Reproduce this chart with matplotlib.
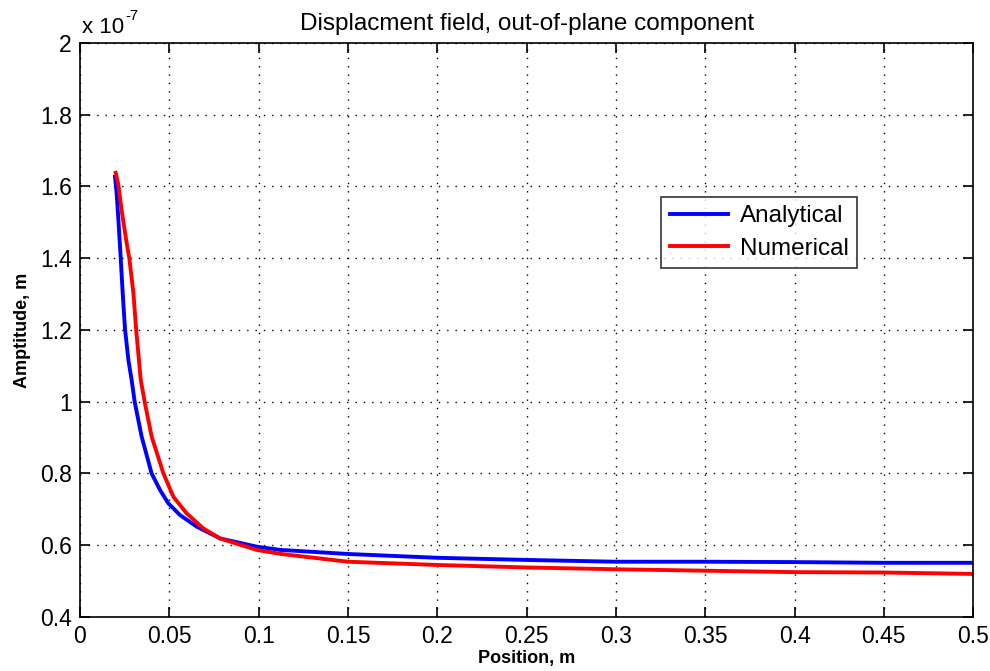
#!/usr/bin/env python3
"""
Displacement field, out-of-plane component: analytical vs numerical.
"""

import matplotlib
matplotlib.use('Agg')
import matplotlib.pyplot as plt

plt.rcParams['font.family'] = ['Liberation Sans', 'DejaVu Sans']

# position (m)
x_analytical = [0.0196, 0.0205, 0.0215, 0.0228, 0.0239, 0.0252, 0.0271, 0.0289,
                0.0306, 0.0345, 0.0401, 0.0448, 0.0494, 0.056, 0.0653, 0.0784,
                0.0989, 0.112, 0.15, 0.2, 0.25, 0.3, 0.35, 0.4, 0.45, 0.5]
# amplitude (x 1e-7 m)
y_analytical = [1.627, 1.582, 1.507, 1.40, 1.303, 1.203, 1.116, 1.061,
                1.0, 0.903, 0.80, 0.754, 0.717, 0.684, 0.652, 0.619,
                0.596, 0.587, 0.5756, 0.565, 0.559, 0.554, 0.554, 0.553, 0.551, 0.551]

x_numerical = [0.0200, 0.0215, 0.0233, 0.0261, 0.0276, 0.0299, 0.0314, 0.0340,
               0.0362, 0.0401, 0.0467, 0.0523, 0.0597, 0.069, 0.0784, 0.0989,
               0.112, 0.15, 0.2, 0.25, 0.3, 0.35, 0.4, 0.45, 0.5]
y_numerical = [1.638, 1.604, 1.534, 1.443, 1.40, 1.303, 1.203, 1.061,
               1.0, 0.903, 0.80, 0.735, 0.689, 0.647, 0.619, 0.587,
               0.576, 0.554, 0.545, 0.538, 0.533, 0.529, 0.525, 0.524, 0.520]

x_ticks = [0, 0.05, 0.1, 0.15, 0.2, 0.25, 0.3, 0.35, 0.4, 0.45, 0.5]
y_ticks = [0.4, 0.6, 0.8, 1.0, 1.2, 1.4, 1.6, 1.8, 2.0]

fig = plt.figure(figsize=(9.9, 6.71), dpi=100)
ax = fig.add_axes([0.0808, 0.0805, 0.9022, 0.8555])

ax.plot(x_analytical, y_analytical, color='#0000ff', lw=2.8, label='Analytical')
ax.plot(x_numerical, y_numerical, color='#ff0000', lw=2.8, label='Numerical')

ax.set_xlim(0, 0.5)
ax.set_ylim(0.4, 2.0)
ax.set_xticks(x_ticks)
ax.set_xticklabels(['0', '0.05', '0.1', '0.15', '0.2', '0.25', '0.3', '0.35',
                    '0.4', '0.45', '0.5'])
ax.set_yticks(y_ticks)
ax.set_yticklabels(['0.4', '0.6', '0.8', '1', '1.2', '1.4', '1.6', '1.8', '2'])
ax.tick_params(direction='in', top=True, right=True, length=7, width=1.2,
               labelsize=16.5, pad=6)
for s in ax.spines.values():
    s.set_linewidth(1.2)

ax.grid(True, color='black', linestyle=(0, (1, 5)), linewidth=1.0)

ax.set_title('Displacment field, out-of-plane component', fontsize=17.5, pad=9)
ax.set_xlabel('Position, m', fontsize=13, fontweight='bold', labelpad=1)
ax.set_ylabel('Amptitude, m', fontsize=13, fontweight='bold', labelpad=6)

# multiplicador de escala al estilo MATLAB
t = ax.text(0.0025, 1.0174, 'x 10', transform=ax.transAxes,
            fontsize=16, ha='left', va='baseline')
ax.annotate('-7', xy=(1, 0.72), xycoords=t, xytext=(1, 0),
            textcoords='offset points', fontsize=10.5, ha='left', va='bottom')

leg = ax.legend(loc='upper left', bbox_to_anchor=(0.6506, 0.7317), fontsize=17.5,
                frameon=True, fancybox=False, edgecolor='black',
                handlelength=2.4, borderpad=0.35, labelspacing=0.42,
                handletextpad=0.5, borderaxespad=0)
leg.get_frame().set_linewidth(1.2)

plt.savefig('out.png', dpi=100)
